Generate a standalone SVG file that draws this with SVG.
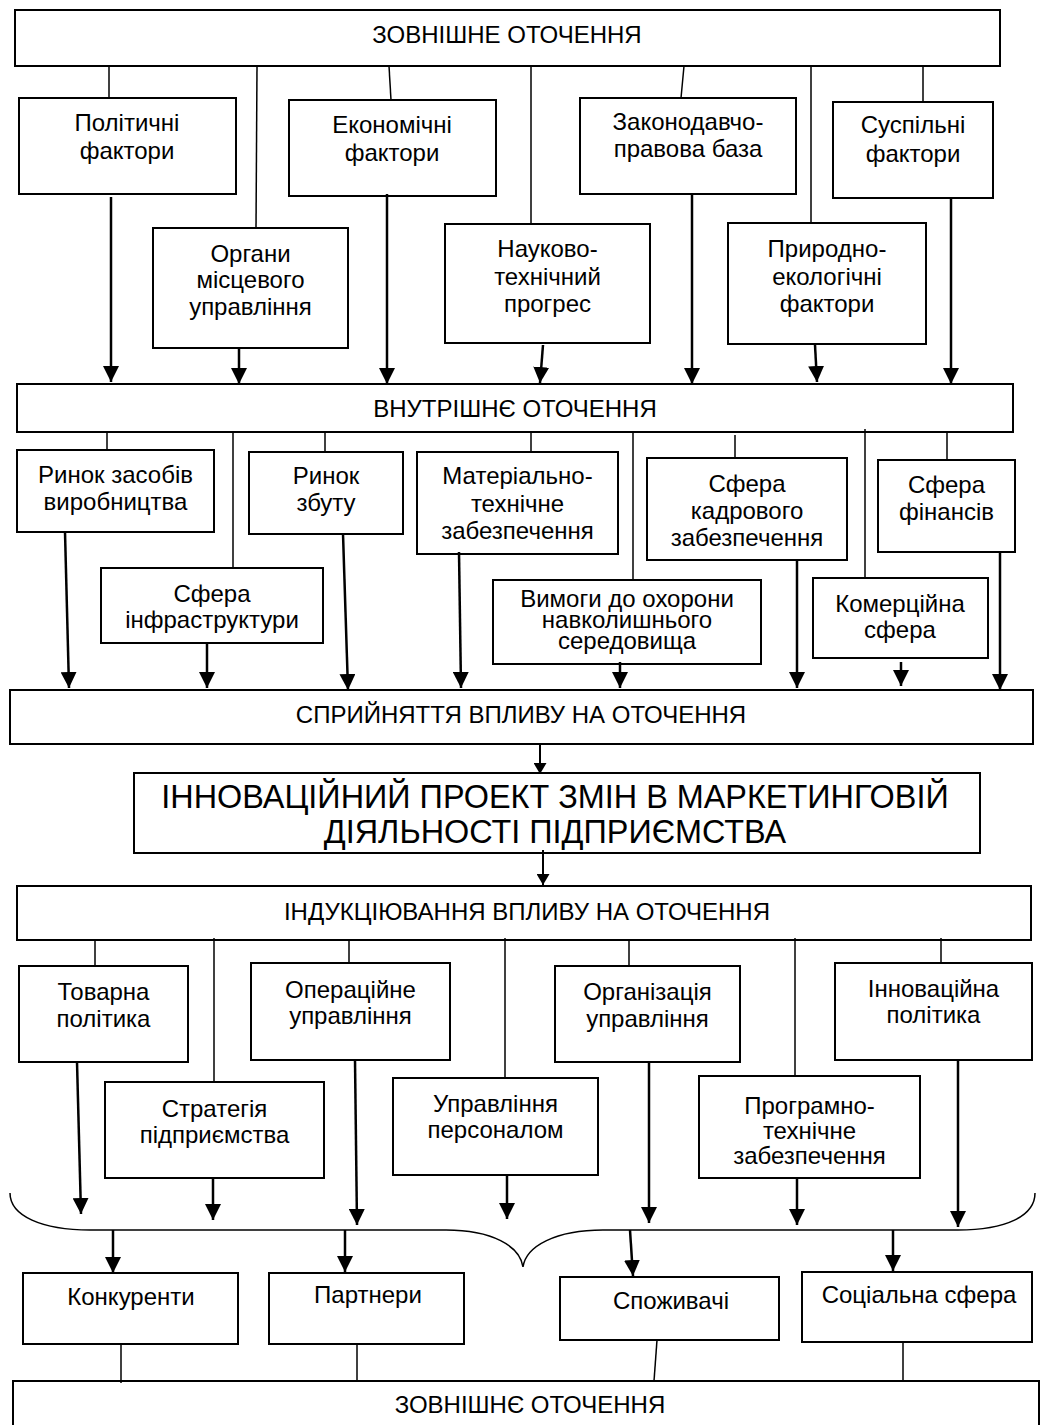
<svg xmlns="http://www.w3.org/2000/svg" width="1041" height="1425" viewBox="0 0 1041 1425">
<style>
.box{fill:#fff;stroke:#000;stroke-width:2}
.t{font-family:"Liberation Sans",Arial,sans-serif;font-size:24px;text-anchor:middle;fill:#000}
.tb{font-size:32.4px}
.ln{stroke:#000;stroke-width:1.5;fill:none}
.ar{stroke:#000;stroke-width:2.5;fill:none;marker-end:url(#ah)}
.ars{stroke:#000;stroke-width:2;fill:none;marker-end:url(#ahs)}
</style>
<defs>
<marker id="ah" viewBox="0 0 16 16" refX="16" refY="8" markerWidth="16" markerHeight="16" markerUnits="userSpaceOnUse" orient="auto"><path d="M0,0 L16,8 L0,16 Z" fill="#000"/></marker>
<marker id="ahs" viewBox="0 0 11 13" refX="11" refY="6.5" markerWidth="11" markerHeight="13" markerUnits="userSpaceOnUse" orient="auto"><path d="M0,0 L11,6.5 L0,13 Z" fill="#000"/></marker>
</defs>
<rect width="1041" height="1425" fill="#fff"/>

<g id="n_top"><rect class="box" x="15" y="10" width="985" height="56"/><text class="t" x="507" y="43">ЗОВНІШНЕ ОТОЧЕННЯ</text></g>

<g id="n_polit"><rect class="box" x="19" y="98" width="217" height="96"/><text class="t"><tspan x="127" y="131">Політичні</tspan><tspan x="127" y="159">фактори</tspan></text></g>
<g id="n_econ"><rect class="box" x="289" y="100" width="207" height="96"/><text class="t"><tspan x="392" y="133">Економічні</tspan><tspan x="392" y="161">фактори</tspan></text></g>
<g id="n_organy"><rect class="box" x="153" y="228" width="195" height="120"/><text class="t"><tspan x="250.5" y="262">Органи</tspan><tspan x="250.5" y="288">місцевого</tspan><tspan x="250.5" y="315">управління</tspan></text></g>
<g id="n_nauk"><rect class="box" x="445" y="224" width="205" height="119"/><text class="t"><tspan x="547.5" y="257">Науково-</tspan><tspan x="547.5" y="285">технічний</tspan><tspan x="547.5" y="312">прогрес</tspan></text></g>
<g id="n_zakon"><rect class="box" x="580" y="98" width="216" height="96"/><text class="t"><tspan x="688" y="130">Законодавчо-</tspan><tspan x="688" y="157">правова база</tspan></text></g>
<g id="n_susp"><rect class="box" x="833" y="102" width="160" height="96"/><text class="t"><tspan x="913" y="133">Суспільні</tspan><tspan x="913" y="162">фактори</tspan></text></g>
<g id="n_pryr"><rect class="box" x="728" y="223" width="198" height="121"/><text class="t"><tspan x="827" y="257">Природно-</tspan><tspan x="827" y="285">екологічні</tspan><tspan x="827" y="312">фактори</tspan></text></g>

<g id="n_vnutr"><rect class="box" x="17" y="384" width="996" height="48"/><text class="t" x="515" y="417">ВНУТРІШНЄ ОТОЧЕННЯ</text></g>

<g id="n_rynok_zas"><rect class="box" x="17" y="450" width="197" height="82"/><text class="t"><tspan x="115.5" y="483">Ринок засобів</tspan><tspan x="115.5" y="510">виробництва</tspan></text></g>
<g id="n_rynok_zb"><rect class="box" x="249" y="452" width="154" height="82"/><text class="t"><tspan x="326" y="484">Ринок</tspan><tspan x="326" y="511">збуту</tspan></text></g>
<g id="n_mat"><rect class="box" x="417" y="452" width="201" height="102"/><text class="t"><tspan x="517.5" y="484">Матеріально-</tspan><tspan x="517.5" y="511.5">технічне</tspan><tspan x="517.5" y="539">забезпечення</tspan></text></g>
<g id="n_infra"><rect class="box" x="101" y="568" width="222" height="75"/><text class="t"><tspan x="212" y="602">Сфера</tspan><tspan x="212" y="628">інфраструктури</tspan></text></g>
<g id="n_vymogy"><rect class="box" x="493" y="580" width="268" height="84"/><text class="t"><tspan x="627" y="607">Вимоги до охорони</tspan><tspan x="627" y="628">навколишнього</tspan><tspan x="627" y="649">середовища</tspan></text></g>
<g id="n_kadr"><rect class="box" x="647" y="458" width="200" height="102"/><text class="t"><tspan x="747" y="492">Сфера</tspan><tspan x="747" y="518.5">кадрового</tspan><tspan x="747" y="545.5">забезпечення</tspan></text></g>
<g id="n_fin"><rect class="box" x="878" y="460" width="137" height="92"/><text class="t"><tspan x="946.5" y="493">Сфера</tspan><tspan x="946.5" y="520">фінансів</tspan></text></g>
<g id="n_komerc"><rect class="box" x="813" y="578" width="175" height="80"/><text class="t"><tspan x="900" y="612">Комерційна</tspan><tspan x="900" y="638">сфера</tspan></text></g>

<g id="n_spryin"><rect class="box" x="10" y="690" width="1023" height="54"/><text class="t" x="521" y="723">СПРИЙНЯТТЯ ВПЛИВУ НА ОТОЧЕННЯ</text></g>

<g id="n_innov_proj"><rect class="box" x="134" y="773" width="846" height="80"/><text class="t tb"><tspan x="555" y="808">ІННОВАЦІЙНИЙ ПРОЕКТ ЗМІН В МАРКЕТИНГОВІЙ</tspan><tspan x="555" y="843">ДІЯЛЬНОСТІ ПІДПРИЄМСТВА</tspan></text></g>

<g id="n_indukc"><rect class="box" x="17" y="886" width="1014" height="54"/><text class="t" x="527" y="920">ІНДУКЦІЮВАННЯ ВПЛИВУ НА ОТОЧЕННЯ</text></g>

<g id="n_tov"><rect class="box" x="19" y="966" width="169" height="96"/><text class="t"><tspan x="103.5" y="1000">Товарна</tspan><tspan x="103.5" y="1027">політика</tspan></text></g>
<g id="n_oper"><rect class="box" x="251" y="963" width="199" height="97"/><text class="t"><tspan x="350.5" y="998">Операційне</tspan><tspan x="350.5" y="1024">управління</tspan></text></g>
<g id="n_strat"><rect class="box" x="105" y="1082" width="219" height="96"/><text class="t"><tspan x="214.5" y="1117">Стратегія</tspan><tspan x="214.5" y="1143">підприємства</tspan></text></g>
<g id="n_upr"><rect class="box" x="393" y="1078" width="205" height="97"/><text class="t"><tspan x="495.5" y="1112">Управління</tspan><tspan x="495.5" y="1138">персоналом</tspan></text></g>
<g id="n_org"><rect class="box" x="555" y="966" width="185" height="96"/><text class="t"><tspan x="647.5" y="1000">Організація</tspan><tspan x="647.5" y="1027">управління</tspan></text></g>
<g id="n_innov"><rect class="box" x="835" y="963" width="197" height="97"/><text class="t"><tspan x="933.5" y="997">Інноваційна</tspan><tspan x="933.5" y="1023">політика</tspan></text></g>
<g id="n_prog"><rect class="box" x="699" y="1076" width="221" height="102"/><text class="t"><tspan x="809.5" y="1114">Програмно-</tspan><tspan x="809.5" y="1139">технічне</tspan><tspan x="809.5" y="1164">забезпечення</tspan></text></g>

<g id="n_konk"><rect class="box" x="23" y="1273" width="215" height="71"/><text class="t" x="131" y="1305">Конкуренти</text></g>
<g id="n_partn"><rect class="box" x="269" y="1273" width="195" height="71"/><text class="t" x="368" y="1303">Партнери</text></g>
<g id="n_spozh"><rect class="box" x="560" y="1277" width="219" height="63"/><text class="t" x="671" y="1309">Споживачі</text></g>
<g id="n_soc"><rect class="box" x="802" y="1272" width="230" height="70"/><text class="t" x="919" y="1303">Соціальна сфера</text></g>

<g id="n_bottom"><rect class="box" x="13" y="1381" width="1026" height="60"/><text class="t" x="530" y="1413">ЗОВНІШНЄ ОТОЧЕННЯ</text></g>

<g id="connectors">
<line class="ln" x1="109" y1="66" x2="109" y2="98"/>
<line class="ln" x1="257" y1="66" x2="256" y2="228"/>
<line class="ln" x1="389" y1="66" x2="391" y2="100"/>
<line class="ln" x1="531" y1="66" x2="531" y2="224"/>
<line class="ln" x1="684" y1="66" x2="681" y2="98"/>
<line class="ln" x1="811" y1="66" x2="811" y2="223"/>
<line class="ln" x1="923" y1="66" x2="923" y2="102"/>

<line class="ar" x1="111" y1="197" x2="111" y2="382"/>
<line class="ar" x1="239" y1="348" x2="239" y2="384"/>
<line class="ar" x1="387" y1="194" x2="387" y2="384"/>
<line class="ar" x1="543" y1="345" x2="540" y2="383"/>
<line class="ar" x1="692" y1="194" x2="692" y2="384"/>
<line class="ar" x1="815" y1="345" x2="817" y2="382"/>
<line class="ar" x1="951" y1="198" x2="951" y2="384"/>

<line class="ln" x1="107" y1="432" x2="107" y2="450"/>
<line class="ln" x1="233" y1="432" x2="233" y2="568"/>
<line class="ln" x1="325" y1="432" x2="325" y2="452"/>
<line class="ln" x1="531" y1="432" x2="531" y2="452"/>
<line class="ln" x1="633" y1="432" x2="633" y2="580"/>
<line class="ln" x1="735" y1="435" x2="735" y2="458"/>
<line class="ln" x1="865" y1="429" x2="865" y2="578"/>
<line class="ln" x1="947" y1="432" x2="947" y2="460"/>

<line class="ar" x1="65" y1="532" x2="69" y2="688"/>
<line class="ar" x1="207" y1="643" x2="207" y2="688"/>
<line class="ar" x1="343" y1="534" x2="348" y2="690"/>
<line class="ar" x1="459" y1="552" x2="461" y2="688"/>
<line class="ar" x1="620" y1="662" x2="620" y2="688"/>
<line class="ar" x1="797" y1="560" x2="797" y2="688"/>
<line class="ar" x1="901" y1="662" x2="901" y2="686"/>
<line class="ar" x1="1000" y1="552" x2="1000" y2="690"/>

<line class="ars" x1="540" y1="744" x2="540" y2="774"/>
<line class="ars" x1="543" y1="850" x2="543" y2="885"/>

<line class="ln" x1="95" y1="940" x2="95" y2="966"/>
<line class="ln" x1="214" y1="938" x2="214" y2="1082"/>
<line class="ln" x1="349" y1="940" x2="349" y2="963"/>
<line class="ln" x1="505" y1="938" x2="505" y2="1078"/>
<line class="ln" x1="629" y1="940" x2="629" y2="966"/>
<line class="ln" x1="795" y1="938" x2="795" y2="1076"/>
<line class="ln" x1="941" y1="938" x2="941" y2="963"/>

<line class="ar" x1="77" y1="1062" x2="81" y2="1214"/>
<line class="ar" x1="213" y1="1178" x2="213" y2="1220"/>
<line class="ar" x1="355" y1="1060" x2="357" y2="1225"/>
<line class="ar" x1="507" y1="1175" x2="507" y2="1219"/>
<line class="ar" x1="649" y1="1062" x2="649" y2="1223"/>
<line class="ar" x1="797" y1="1178" x2="797" y2="1225"/>
<line class="ar" x1="958" y1="1060" x2="958" y2="1227"/>

<path class="ln" d="M10,1193 C10,1216 42,1230 90,1230 L446,1230 C492,1230 520,1246 523,1267 C526,1246 556,1230 603,1230 L958,1230 C1006,1230 1035,1216 1035,1193"/>

<line class="ar" x1="113" y1="1230" x2="113" y2="1273"/>
<line class="ar" x1="345" y1="1230" x2="345" y2="1272"/>
<line class="ar" x1="630" y1="1230" x2="633" y2="1276"/>
<line class="ar" x1="893" y1="1230" x2="893" y2="1271"/>

<line class="ln" x1="121" y1="1344" x2="121" y2="1383"/>
<line class="ln" x1="357" y1="1344" x2="357" y2="1381"/>
<line class="ln" x1="657" y1="1340" x2="654" y2="1381"/>
<line class="ln" x1="903" y1="1342" x2="903" y2="1382"/>
</g>
</svg>
